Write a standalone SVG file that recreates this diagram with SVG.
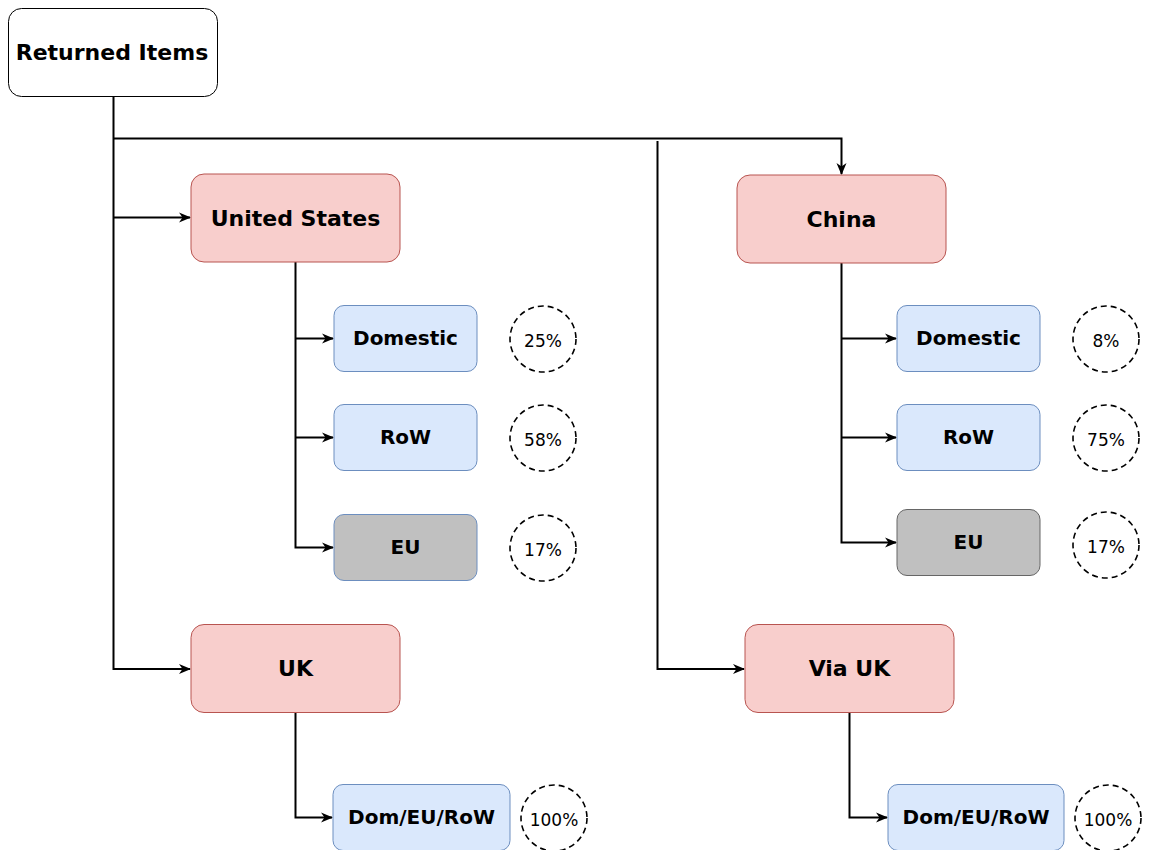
<svg xmlns="http://www.w3.org/2000/svg" width="1149" height="850" viewBox="0 0 1149 850">
<style>
.t{font-family:"DejaVu Sans",Verdana,sans-serif;font-weight:bold;fill:#000;text-anchor:middle}
.big{font-size:22px}
.mid{font-size:20px}
.pct{font-family:"DejaVu Sans",Verdana,sans-serif;font-size:17px;fill:#000;text-anchor:middle}
.root{fill:#fff;stroke:#000;stroke-width:1}
.red{fill:#f8cecc;stroke:#b85450;stroke-width:1}
.blue{fill:#dae8fc;stroke:#6c8ebf;stroke-width:1}
.grayb{fill:#c0c0c0;stroke:#6c8ebf;stroke-width:1}
.grayg{fill:#c0c0c0;stroke:#666;stroke-width:1}
.circ{fill:none;stroke:#000;stroke-width:1.6;stroke-dasharray:6 4}
.edge{fill:none;stroke:#000;stroke-width:2}
</style>
<defs>
<marker id="arr" viewBox="0 0 12 12" refX="11" refY="6" markerWidth="12" markerHeight="12" markerUnits="userSpaceOnUse" orient="auto">
<path d="M0,1 L12,6 L0,11 L3.5,6 Z" fill="#000"/>
</marker>
</defs>
<rect width="1149" height="850" fill="#fff"/>
<g id="connectors">
<path class="edge" d="M113.5,96 V669 H190" marker-end="url(#arr)"/>
<path class="edge" d="M113.5,217.5 H190" marker-end="url(#arr)"/>
<path class="edge" d="M113.5,138.5 H841.5 V174" marker-end="url(#arr)"/>
<path class="edge" d="M657.5,141 V669 H744" marker-end="url(#arr)"/>
<path class="edge" d="M295.5,262 V547.5 H333" marker-end="url(#arr)"/>
<path class="edge" d="M295.5,338.5 H333" marker-end="url(#arr)"/>
<path class="edge" d="M295.5,437.5 H333" marker-end="url(#arr)"/>
<path class="edge" d="M841.5,263 V542.5 H896" marker-end="url(#arr)"/>
<path class="edge" d="M841.5,338.5 H896" marker-end="url(#arr)"/>
<path class="edge" d="M841.5,437.5 H896" marker-end="url(#arr)"/>
<path class="edge" d="M295.5,713 V817.5 H332" marker-end="url(#arr)"/>
<path class="edge" d="M849.5,713 V817.5 H887" marker-end="url(#arr)"/>
</g>
<g id="returned"><rect class="root" x="8.5" y="8.5" width="209" height="88" rx="13"/><text class="t big" x="112" y="60">Returned Items</text></g>
<g id="us"><rect class="red" x="191" y="174" width="209" height="88" rx="13"/><text class="t big" x="295.5" y="225.5">United States</text></g>
<g id="china"><rect class="red" x="737" y="175" width="209" height="88" rx="13"/><text class="t big" x="841.5" y="226.5">China</text></g>
<g id="uk"><rect class="red" x="191" y="624.5" width="209" height="88" rx="13"/><text class="t big" x="295.5" y="676">UK</text></g>
<g id="viauk"><rect class="red" x="745" y="624.5" width="209" height="88" rx="13"/><text class="t big" x="849.5" y="676">Via UK</text></g>
<g id="us-dom"><rect class="blue" x="334" y="305.5" width="143" height="66" rx="10"/><text class="t mid" x="405.5" y="345">Domestic</text></g>
<g id="us-row"><rect class="blue" x="334" y="404.5" width="143" height="66" rx="10"/><text class="t mid" x="405.5" y="444">RoW</text></g>
<g id="us-eu"><rect class="grayb" x="334" y="514.5" width="143" height="66" rx="10"/><text class="t mid" x="405.5" y="554">EU</text></g>
<g id="cn-dom"><rect class="blue" x="897" y="305.5" width="143" height="66" rx="10"/><text class="t mid" x="968.5" y="345">Domestic</text></g>
<g id="cn-row"><rect class="blue" x="897" y="404.5" width="143" height="66" rx="10"/><text class="t mid" x="968.5" y="444">RoW</text></g>
<g id="cn-eu"><rect class="grayg" x="897" y="509.5" width="143" height="66" rx="10"/><text class="t mid" x="968.5" y="549">EU</text></g>
<g id="uk-all"><rect class="blue" x="333" y="784.5" width="177" height="66" rx="10"/><text class="t mid" x="421.5" y="824">Dom/EU/RoW</text></g>
<g id="via-all"><rect class="blue" x="888" y="784.5" width="176" height="66" rx="10"/><text class="t mid" x="976" y="824">Dom/EU/RoW</text></g>
<g id="p-us-dom"><circle class="circ" cx="543" cy="339" r="33"/><text class="pct" x="543" y="347">25%</text></g>
<g id="p-us-row"><circle class="circ" cx="543" cy="438" r="33"/><text class="pct" x="543" y="446">58%</text></g>
<g id="p-us-eu"><circle class="circ" cx="543" cy="548" r="33"/><text class="pct" x="543" y="556">17%</text></g>
<g id="p-cn-dom"><circle class="circ" cx="1106" cy="339" r="33"/><text class="pct" x="1106" y="347">8%</text></g>
<g id="p-cn-row"><circle class="circ" cx="1106" cy="438" r="33"/><text class="pct" x="1106" y="446">75%</text></g>
<g id="p-cn-eu"><circle class="circ" cx="1106" cy="545" r="33"/><text class="pct" x="1106" y="553">17%</text></g>
<g id="p-uk"><circle class="circ" cx="554" cy="818" r="33"/><text class="pct" x="554" y="826">100%</text></g>
<g id="p-via"><circle class="circ" cx="1108" cy="818" r="33"/><text class="pct" x="1108" y="826">100%</text></g>
</svg>
